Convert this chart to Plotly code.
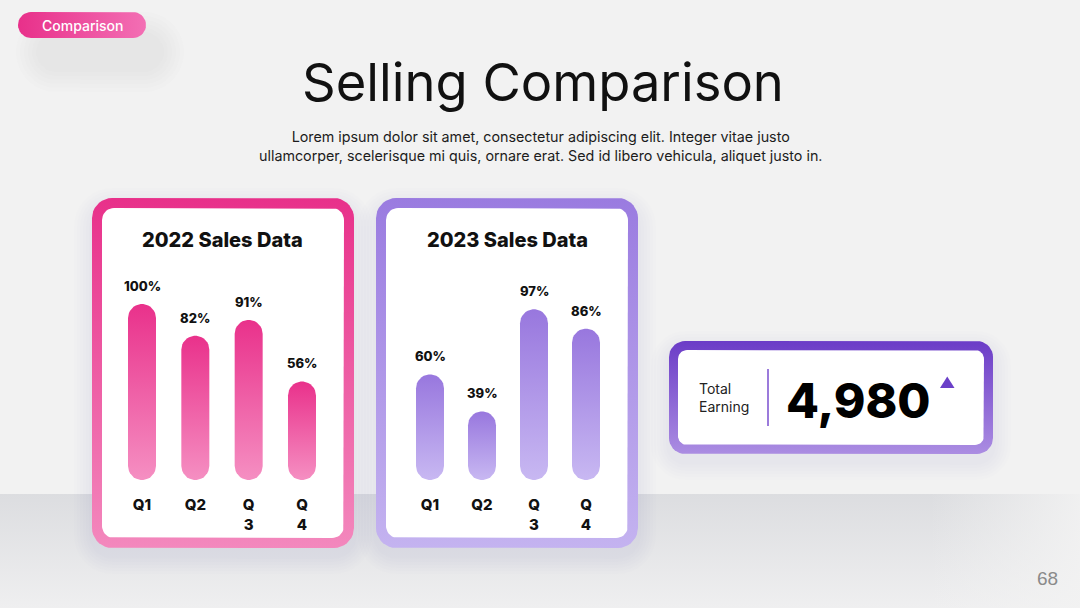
import numpy as np
import plotly.graph_objects as go

W, H = 1080, 608

# ---------------- data ----------------
quarters = ["Q1", "Q2", "Q3", "Q4"]
quarter_ticks = ["Q1", "Q2", "Q<br>3", "Q<br>4"]
sales_2022 = [100, 82, 91, 56]
sales_2023 = [60, 39, 97, 86]
total_earning = 4980

title_text = "Selling Comparison"
subtitle_text = ("Lorem ipsum dolor sit amet, consectetur adipiscing elit. Integer vitae justo<br>"
                 "ullamcorper, scelerisque mi quis, ornare erat. Sed id libero vehicula, aliquet justo in.")

FONT = "Inter, 'Noto Sans', sans-serif"

fig = go.Figure()


def rrect(x0, y0, x1, y1, r, n=10):
    xs, ys = [], []
    corners = [((x0 + r, y0 + r), np.pi, 1.5 * np.pi),
               ((x1 - r, y0 + r), 1.5 * np.pi, 2 * np.pi),
               ((x1 - r, y1 - r), 0, 0.5 * np.pi),
               ((x0 + r, y1 - r), 0.5 * np.pi, np.pi)]
    for (cx, cy), a0, a1 in corners:
        t = np.linspace(a0, a1, n)
        xs += list(cx + r * np.cos(t))
        ys += list(cy + r * np.sin(t))
    xs.append(xs[0]); ys.append(ys[0])
    return xs, ys


def add_bg(xs, ys, color=None, grad=None):
    kw = dict(x=xs, y=ys, mode="lines", fill="toself", line=dict(width=0),
              hoverinfo="skip", showlegend=False, xaxis="x", yaxis="y")
    if grad is not None:
        kw["fillgradient"] = grad
    else:
        kw["fillcolor"] = color
    fig.add_trace(go.Scatter(**kw))


def vgrad(top, bottom, c_top, c_bottom):
    return dict(type="vertical", start=top, stop=bottom,
                colorscale=[[0, c_top], [1, c_bottom]])


def hgrad(left, right, c_left, c_right):
    return dict(type="horizontal", start=left, stop=right,
                colorscale=[[0, c_left], [1, c_right]])


# ---------------- background decoration ----------------
# floor
add_bg([0, W, W, 0, 0], [494, 494, H, H, 494],
       grad=vgrad(494, H, "#dcdde0", "#efeff0"))
add_bg([930, W, W, 930, 930], [494, 494, H, H, 494],
       grad=hgrad(930, W, "rgba(242,242,242,0)", "rgba(242,242,242,0.9)"))

# soft shadows
def shadow(x0, y0, x1, y1, r, dy=8, layers=6, step=3, alpha=0.008):
    for k in range(1, layers + 1):
        e = k * step
        xs, ys = rrect(x0 - e, y0 - e + dy, x1 + e, y1 + e + dy, r + e)
        add_bg(xs, ys, color=f"rgba(60,60,80,{alpha})")

shadow(40, 30, 160, 62, 16, dy=6, layers=6, step=4, alpha=0.012)
shadow(92, 198, 354, 548, 20)
shadow(376, 198, 638, 548, 20)
shadow(669, 341, 993, 454, 16)

# pill label
xs, ys = rrect(18, 12, 146, 38, 13)
add_bg(xs, ys, grad=hgrad(18, 146, "#e8308a", "#f36fb4"))

# card 2022
xs, ys = rrect(92, 198, 354, 548, 20)
add_bg(xs, ys, grad=vgrad(198, 548, "#e8308a", "#f388bd"))
xs, ys = rrect(102, 208, 344, 538, 12)
add_bg(xs, ys, color="#ffffff")

# card 2023
xs, ys = rrect(376, 198, 638, 548, 20)
add_bg(xs, ys, grad=vgrad(198, 548, "#9a7be0", "#c4b3f0"))
xs, ys = rrect(386, 208, 628, 538, 12)
add_bg(xs, ys, color="#ffffff")

# KPI card
xs, ys = rrect(669, 341, 993, 454, 16)
add_bg(xs, ys, grad=vgrad(341, 454, "#6b3cc7", "#ab8de2"))
xs, ys = rrect(678, 350, 984, 445, 9)
add_bg(xs, ys, color="#ffffff")

# divider + triangle
fig.add_trace(go.Scatter(x=[768, 768], y=[369, 426], mode="lines",
                         line=dict(color="#7a4fcf", width=1.5),
                         hoverinfo="skip", showlegend=False, xaxis="x", yaxis="y"))
add_bg([940, 954.5, 947.25, 940], [388, 388, 376.5, 388], color="#6b40c8")

# ---------------- bar charts ----------------
PX_PER_UNIT = 1.76
Y_MAX = 110
BASE_PX = 480
TOP_PX = BASE_PX - Y_MAX * PX_PER_UNIT
BAR_PX = 28


def pill(xc, v, hw, r, n=18):
    t1 = np.linspace(0, np.pi, n)
    t2 = np.linspace(np.pi, 2 * np.pi, n)
    xs = list(xc + hw * np.cos(t1)) + list(xc + hw * np.cos(t2))
    ys = list((v - r) + r * np.sin(t1)) + list(r + r * np.sin(t2))
    xs.append(xs[0]); ys.append(ys[0])
    return xs, ys


charts = [
    dict(values=sales_2022, ax="2", x0=115.33, x1=328.67,
         c_top="#e9318b", c_bot="#f58fc2", title="2022 Sales Data", tx=222),
    dict(values=sales_2023, ax="3", x0=404, x1=612,
         c_top="#9877de", c_bot="#c8b8f2", title="2023 Sales Data", tx=507),
]

annotations = []
for ch in charts:
    unit_px = (ch["x1"] - ch["x0"]) / 4.0
    hw = (BAR_PX / 2) / unit_px
    r = (BAR_PX / 2) / PX_PER_UNIT
    xa, ya = "x" + ch["ax"], "y" + ch["ax"]
    for i, v in enumerate(ch["values"]):
        bx, by = pill(i, v, hw, r)
        fig.add_trace(go.Scatter(
            x=bx, y=by, mode="lines", fill="toself", line=dict(width=0),
            fillgradient=dict(type="vertical", start=0, stop=v,
                              colorscale=[[0, ch["c_bot"]], [1, ch["c_top"]]]),
            name=quarters[i], hovertext=f"{quarters[i]}: {v}%", hoverinfo="text",
            showlegend=False, xaxis=xa, yaxis=ya))
        annotations.append(dict(x=i, y=v, xref=xa, yref=ya, text=f"{v}%",
                                showarrow=False, xanchor="center", yanchor="bottom", yshift=8,
                                font=dict(family=FONT, size=13, color="#111", weight=800)))
    fig.layout["xaxis" + ch["ax"]] = dict(
        domain=[ch["x0"] / W, ch["x1"] / W], range=[-0.5, 3.5], anchor=ya,
        tickvals=list(range(4)), ticktext=quarter_ticks, showgrid=False,
        zeroline=False, showline=False, ticks="", ticklabelstandoff=14,
        tickfont=dict(family=FONT, size=15, color="#111", weight=800),
        fixedrange=True)
    fig.layout["yaxis" + ch["ax"]] = dict(
        domain=[1 - BASE_PX / H, 1 - TOP_PX / H], range=[0, Y_MAX], anchor=xa,
        visible=False, fixedrange=True)
    annotations.append(dict(x=ch["tx"] / W, y=1 - 240 / H, xref="paper", yref="paper",
                            text=ch["title"], showarrow=False,
                            font=dict(family=FONT, size=20, color="#111", weight=800)))

# ---------------- text ----------------
annotations += [
    dict(x=82 / W, y=1 - 25 / H, text="Comparison",
         font=dict(family=FONT, size=14, color="#ffffff", weight=500)),
    dict(x=543 / W, y=1 - 82 / H, text=title_text,
         font=dict(family=FONT, size=52.5, color="#111111", weight=400)),
    dict(x=540 / W, y=1 - 146 / H, text=subtitle_text,
         font=dict(family=FONT, size=14.3, color="#1c1c1c", weight=400)),
    dict(x=697 / W, y=1 - 397 / H, text="Total<br>Earning", xanchor="left", align="left",
         font=dict(family=FONT, size=14, color="#222", weight=400)),
    dict(x=858 / W, y=1 - 400 / H, text=f"{total_earning:,}",
         font=dict(family=FONT, size=48, color="#000", weight=800)),
    dict(x=1047 / W, y=1 - 578 / H, text="68",
         font=dict(family="'Liberation Sans', Arial, sans-serif", size=19, color="#8a8a8a")),
]
for a in annotations:
    a.setdefault("xref", "paper")
    a.setdefault("yref", "paper")
    a.setdefault("showarrow", False)
    a.setdefault("xanchor", "center")
    a.setdefault("yanchor", "middle")

fig.update_layout(
    width=W, height=H, margin=dict(l=0, r=0, t=0, b=0),
    paper_bgcolor="#f2f2f2", plot_bgcolor="rgba(0,0,0,0)",
    xaxis=dict(domain=[0, 1], range=[0, W], visible=False, fixedrange=True),
    yaxis=dict(domain=[0, 1], range=[H, 0], visible=False, fixedrange=True),
    annotations=annotations, showlegend=False,
)

fig.write_html("out.html", config={"displayModeBar": False})
